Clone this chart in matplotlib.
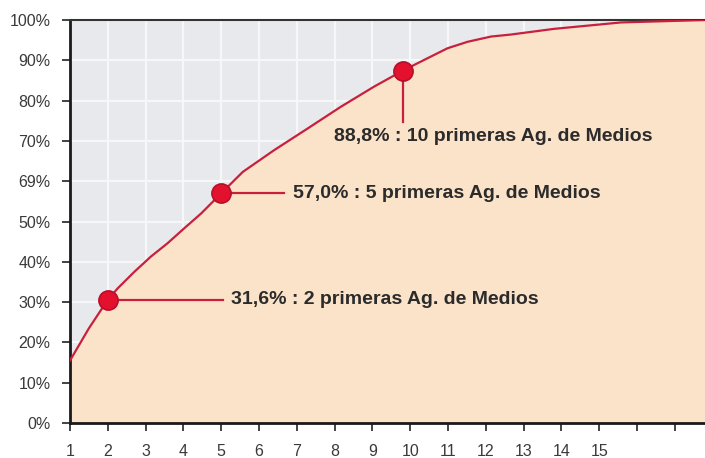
import matplotlib
matplotlib.use("Agg")
import matplotlib.pyplot as plt

# curva acumulada
curve_x = [1, 1.5, 2, 2.26, 2.7, 3.14, 3.58, 4.02, 4.47, 5, 5.57, 6.4, 7.29,
           8.17, 9.05, 9.8, 10.37, 10.99, 11.52, 12.14, 12.67, 13.8, 15.58,
           17.8]
curve_y = [15.5, 23.5, 30.6, 33.4, 37.5, 41.3, 44.6, 48.3, 52.0, 57.0, 62.3,
           67.7, 73.1, 78.5, 83.5, 87.4, 90.1, 93.0, 94.6, 95.9, 96.4, 97.8,
           99.4, 100]

# puntos destacados
mark_x = [2, 5, 9.8]
mark_y = [30.6, 57.0, 87.4]
mark_labels = ["31,6% : 2 primeras Ag. de Medios",
               "57,0% : 5 primeras Ag. de Medios",
               "88,8% : 10 primeras Ag. de Medios"]

x_ticks = list(range(1, 18))
x_ticklabels = [str(i) for i in range(1, 16)] + ["", ""]
y_ticks = [0, 10, 20, 30, 40, 50, 60, 70, 80, 90, 100]
y_ticklabels = ["0%", "10%", "20%", "30%", "40%", "50%", "69%", "70%",
                "80%", "90%", "100%"]

RED = "#c8203c"
PEACH = "#fbe3c9"
GREY_BG = "#e8e9ed"
TXT = "#2b2b2b"

plt.rcParams["font.family"] = ["Liberation Sans", "DejaVu Sans"]

fig = plt.figure(figsize=(7.05, 4.58), dpi=100)
ax = fig.add_axes([0.0993, 0.0764, 0.9007, 0.8799])

ax.set_facecolor(GREY_BG)
ax.set_axisbelow(True)
ax.grid(True, color="#f7f7f9", lw=1.6)

ax.fill_between(curve_x, curve_y, 0, color=PEACH, zorder=1, lw=0)
ax.plot(curve_x, curve_y, color=RED, lw=1.6, zorder=3)

# lineas de anotación
ax.plot([mark_x[0], 5.05], [mark_y[0], mark_y[0]], color=RED, lw=1.6, zorder=3)
ax.plot([mark_x[1], 6.65], [mark_y[1], mark_y[1]], color=RED, lw=1.6, zorder=3)
ax.plot([mark_x[2], mark_x[2]], [mark_y[2], 74.8], color=RED, lw=1.6, zorder=3)

ax.scatter(mark_x, mark_y, s=190, color="#e3112e", edgecolor="#b50f2b",
           lw=1.2, zorder=4)

ax.text(5.27, mark_y[0], mark_labels[0], fontsize=14, fontweight="bold",
        color=TXT, va="center", ha="left", zorder=5)
ax.text(6.9, mark_y[1], mark_labels[1], fontsize=14, fontweight="bold",
        color=TXT, va="center", ha="left", zorder=5)
ax.text(12.2, 71.2, mark_labels[2], fontsize=14, fontweight="bold",
        color=TXT, va="center", ha="center", zorder=5)

ax.set_xlim(1, 17.8)
ax.set_ylim(0, 100)
ax.set_xticks(x_ticks)
ax.set_xticklabels(x_ticklabels)
ax.set_yticks(y_ticks)
ax.set_yticklabels(y_ticklabels)
ax.tick_params(axis="both", colors="#222222", labelcolor="#3a3a3a",
               labelsize=11.5, length=6, width=1.2)
ax.tick_params(axis="x", pad=9)
ax.tick_params(axis="y", pad=8)

for side in ["left", "bottom"]:
    ax.spines[side].set_linewidth(2)
    ax.spines[side].set_color("#1a1a1a")
ax.spines["top"].set_linewidth(1.5)
ax.spines["top"].set_color("#333333")
ax.spines["right"].set_visible(False)

fig.savefig("out.png", dpi=100)
